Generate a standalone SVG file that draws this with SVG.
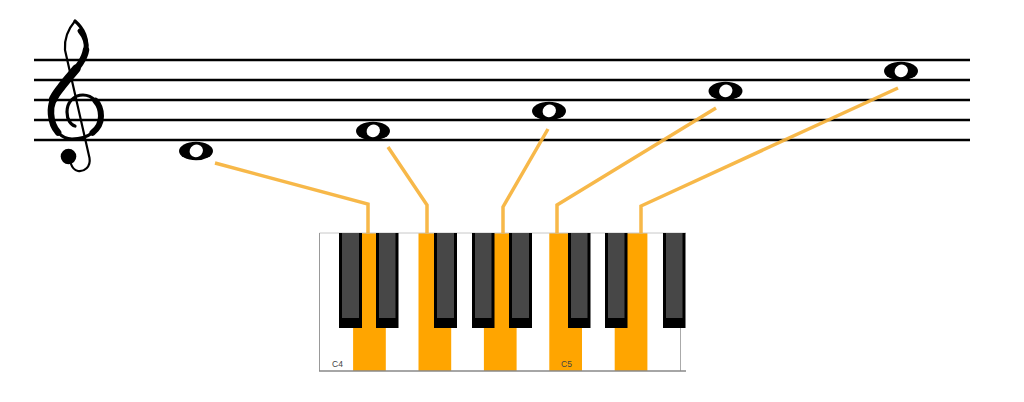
<svg xmlns="http://www.w3.org/2000/svg" width="1024" height="402" viewBox="0 0 1024 402">
<defs>
<style>
.staff{stroke:#000;stroke-width:2.6;fill:none}
.clef{fill:none;stroke:#000;stroke-linecap:round;stroke-linejoin:round}
.note{fill:#000}
.hole{fill:#fff}
.conn{fill:none;stroke:#F6B23A;stroke-width:3.5;stroke-linejoin:miter;stroke-opacity:0.92}
.wk{fill:#fff}
.on{fill:#FFA500}
.bko{fill:#000}
.bki{fill:#474747}
.lbl{font-family:"Liberation Sans",Arial,sans-serif;font-size:8.5px;fill:#444}
</style>
<g id="wholenote">
<ellipse class="note" cx="0" cy="0" rx="17" ry="9.3"/>
<ellipse class="hole" cx="0.3" cy="0" rx="6.8" ry="6.2" transform="rotate(-30)"/>
</g>
</defs>
<rect width="1024" height="402" fill="#fff"/>

<g id="staff">
<line class="staff" x1="34" y1="60" x2="970" y2="60"/>
<line class="staff" x1="34" y1="80" x2="970" y2="80"/>
<line class="staff" x1="34" y1="100" x2="970" y2="100"/>
<line class="staff" x1="34" y1="120" x2="970" y2="120"/>
<line class="staff" x1="34" y1="140" x2="970" y2="140"/>
</g>

<g id="treble-clef">
<path class="clef" stroke-width="3.2" d="M 75 21 C 83 28, 88 38, 86 50 C 84 63, 71 74, 62 86 C 54 96, 50 104, 51 114 C 52 130, 62 139, 72 139 C 88 139, 101 130, 101 116 C 101 103, 92 95, 83 95 C 74 95, 67 102, 67 112 C 67 120, 71 125, 75 126"/>
<path class="clef" stroke-width="5" d="M 80 31 C 85 37, 87 44, 86 50"/>
<path class="clef" stroke-width="6.5" d="M 86 50 C 84 63, 71 74, 62 86 C 54 96, 50 104, 51 114 C 51.5 122, 54.25 128.25, 58.1 132.5"/>
<path class="clef" stroke-width="8.5" d="M 76.5 68.5 C 72 74, 66.5 80, 62 86 C 57.5 92, 54.75 95, 53 99.6"/>
<path class="clef" stroke-width="6" d="M 92.5 132.75 C 97.75 128.75, 101 123, 101 116 C 101 109.5, 98.75 104.25, 95.4 100.6"/>
<path class="clef" stroke-width="2.2" d="M 75 21 C 69 28, 64 38, 65 50 L 89.5 158 C 91 167, 84 172, 78 171 C 74 170, 72 167, 71 164"/>
<circle cx="68.5" cy="156.5" r="7.8" fill="#000"/>
</g>

<g id="note-D4"><use href="#wholenote" transform="translate(196 151)"/></g>
<g id="note-F4"><use href="#wholenote" transform="translate(373 131)"/></g>
<g id="note-A4"><use href="#wholenote" transform="translate(549 111)"/></g>
<g id="note-C5"><use href="#wholenote" transform="translate(725.5 91)"/></g>
<g id="note-E5"><use href="#wholenote" transform="translate(901 71)"/></g>

<g id="keyboard">
<rect class="wk" x="319.5" y="233" width="361" height="138"/>
<rect class="on" x="353.1" y="233" width="32.7" height="138"/>
<rect class="on" x="418.5" y="233" width="32.7" height="138"/>
<rect class="on" x="483.9" y="233" width="32.7" height="138"/>
<rect class="on" x="549.3" y="233" width="32.7" height="138"/>
<rect class="on" x="614.7" y="233" width="32.7" height="138"/>
<line x1="319.5" y1="233" x2="686" y2="233" stroke="#c8c8c8" stroke-width="1"/>
<line x1="319.5" y1="233" x2="319.5" y2="371" stroke="#999" stroke-width="1"/>
<line x1="680.5" y1="233" x2="680.5" y2="371" stroke="#aaa" stroke-width="1"/>
<line x1="319" y1="371" x2="686" y2="371" stroke="#888" stroke-width="1.5"/>
<g id="black-keys">
<rect class="bko" x="339" y="233" width="23" height="95"/><rect class="bki" x="342" y="233" width="17" height="85"/>
<rect class="bko" x="376" y="233" width="22.5" height="95"/><rect class="bki" x="379" y="233" width="16.5" height="85"/>
<rect class="bko" x="434" y="233" width="23" height="95"/><rect class="bki" x="437" y="233" width="17" height="85"/>
<rect class="bko" x="472" y="233" width="22.5" height="95"/><rect class="bki" x="475" y="233" width="16.5" height="85"/>
<rect class="bko" x="509" y="233" width="23" height="95"/><rect class="bki" x="512" y="233" width="17" height="85"/>
<rect class="bko" x="568" y="233" width="22.5" height="95"/><rect class="bki" x="571" y="233" width="16.5" height="85"/>
<rect class="bko" x="605" y="233" width="22.5" height="95"/><rect class="bki" x="608" y="233" width="16.5" height="85"/>
<rect class="bko" x="663" y="233" width="22.5" height="95"/><rect class="bki" x="666" y="233" width="16.5" height="85"/>
</g>
<text class="lbl" x="332" y="367">C4</text>
<text class="lbl" x="561" y="367">C5</text>
</g>

<g id="connectors">
<polyline class="conn" points="215,163 368,204 368,233"/>
<polyline class="conn" points="388,147 427,205 427,233"/>
<polyline class="conn" points="548,129 503,207 503,233"/>
<polyline class="conn" points="716,108 557,205 557,233"/>
<polyline class="conn" points="898,88 641,206 641,233"/>
</g>
</svg>
